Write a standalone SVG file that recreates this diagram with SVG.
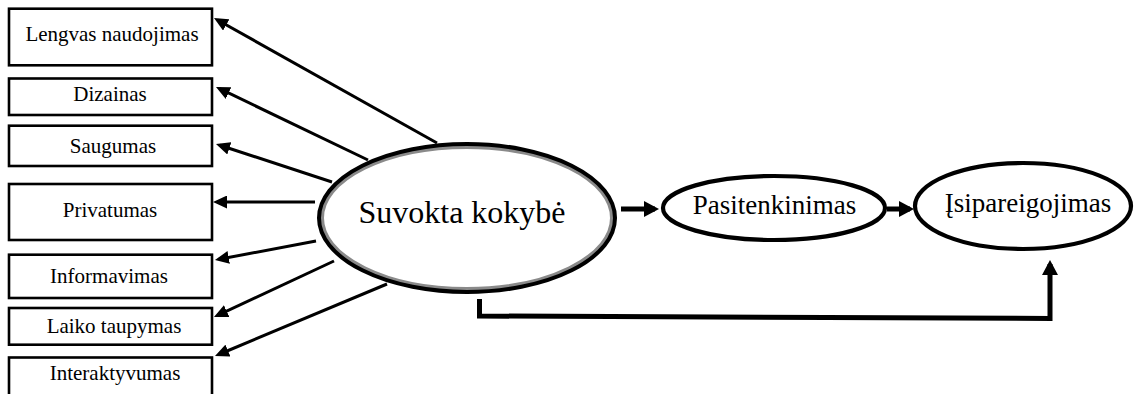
<svg xmlns="http://www.w3.org/2000/svg" width="1135" height="394" viewBox="0 0 1135 394">
  <style>
    .box { fill: #fff; stroke: #000; stroke-width: 2.6; }
    .lbl { font-family: "Liberation Serif", "Times New Roman", serif; fill: #000; text-anchor: middle; }
    .small { font-size: 21px; }
    .oval { fill: #fff; stroke: #000; stroke-width: 4.2; }
    .thin { fill: none; stroke: #000; stroke-width: 3; marker-end: url(#headThin); }
    .thick { fill: none; stroke: #000; stroke-width: 5; marker-end: url(#headThick); }
  </style>
  <defs>
    <marker id="headThin" markerUnits="userSpaceOnUse" markerWidth="15" markerHeight="13" refX="10" refY="6.5" orient="auto">
      <path d="M0,0 L14,6.5 L0,13 z" fill="#000"/>
    </marker>
    <marker id="headThick" markerUnits="userSpaceOnUse" markerWidth="16" markerHeight="16" refX="11" refY="8" orient="auto">
      <path d="M0,0 L15,8 L0,16 z" fill="#000"/>
    </marker>
  </defs>

  <rect width="1135" height="394" fill="#fff"/>

  <!-- quality dimension boxes -->
  <g id="lengvas-naudojimas">
    <rect class="box" x="9" y="8.7" width="203" height="56.6"/>
    <text class="lbl small" x="112" y="41">Lengvas naudojimas</text>
  </g>
  <g id="dizainas">
    <rect class="box" x="9" y="78.5" width="203" height="36.5"/>
    <text class="lbl small" x="110" y="101">Dizainas</text>
  </g>
  <g id="saugumas">
    <rect class="box" x="9" y="125.7" width="203" height="40.3"/>
    <text class="lbl small" x="113" y="153">Saugumas</text>
  </g>
  <g id="privatumas">
    <rect class="box" x="9" y="184" width="203" height="56"/>
    <text class="lbl small" x="110" y="217">Privatumas</text>
  </g>
  <g id="informavimas">
    <rect class="box" x="9" y="254.7" width="203" height="43.3"/>
    <text class="lbl small" x="109" y="283">Informavimas</text>
  </g>
  <g id="laiko-taupymas">
    <rect class="box" x="9" y="308" width="203" height="36.7"/>
    <text class="lbl small" x="114" y="333">Laiko taupymas</text>
  </g>
  <g id="interaktyvumas">
    <rect class="box" x="9" y="357.5" width="203" height="60"/>
    <text class="lbl small" x="115" y="380">Interaktyvumas</text>
  </g>

  <!-- central construct -->
  <g id="suvokta-kokybe">
    <ellipse cx="467" cy="218" rx="145" ry="71" fill="#fff" stroke="#8a8a8a" stroke-width="4"/>
    <ellipse cx="467" cy="218" rx="148" ry="74" fill="none" stroke="#000" stroke-width="4"/>
    <text class="lbl" x="462" y="223" font-size="32">Suvokta kokybė</text>
  </g>

  <g id="pasitenkinimas">
    <ellipse class="oval" cx="774" cy="208" rx="111" ry="32"/>
    <text class="lbl" x="774.5" y="214" font-size="27">Pasitenkinimas</text>
  </g>

  <g id="isipareigojimas">
    <ellipse class="oval" cx="1023" cy="206" rx="108" ry="43"/>
    <text class="lbl" x="1028" y="212" font-size="27">Įsipareigojimas</text>
  </g>

  <!-- connectors -->
  <g id="connectors">
    <line class="thin" x1="437" y1="143" x2="217.5" y2="20"/>
    <line class="thin" x1="368" y1="160" x2="219.6" y2="88.7"/>
    <line class="thin" x1="332" y1="182" x2="219.8" y2="145.2"/>
    <line class="thin" x1="315" y1="202" x2="217" y2="202"/>
    <line class="thin" x1="316" y1="241" x2="218.9" y2="259.3"/>
    <line class="thin" x1="334" y1="261" x2="217.6" y2="315.3"/>
    <line class="thin" x1="387" y1="284" x2="218.7" y2="354.5"/>

    <line class="thick" x1="621" y1="209" x2="655" y2="209"/>
    <line class="thick" x1="887" y1="209" x2="910" y2="209"/>
    <path class="thick" d="M479.5,299 V316 L1050,318.5 V264"/>
  </g>
</svg>
